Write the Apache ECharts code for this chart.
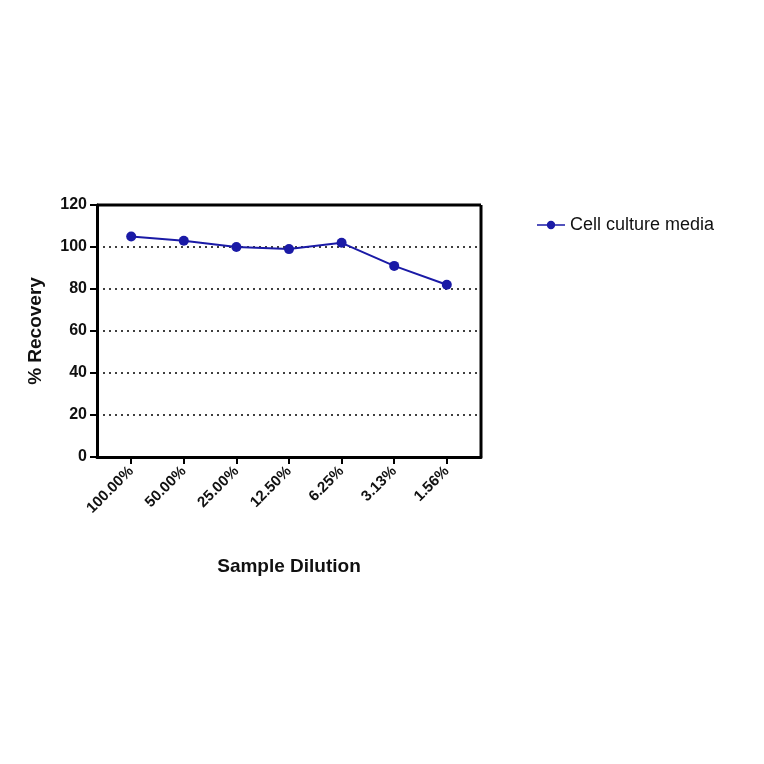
<!DOCTYPE html>
<html><head><meta charset="utf-8">
<script src="https://cdn.jsdelivr.net/npm/echarts@6/dist/echarts.min.js"></script>
<style>html,body{margin:0;padding:0;background:#fff}#c{width:764px;height:764px}</style>
</head><body><div id="c"></div>
<script>
const categories = ["100.00%","50.00%","25.00%","12.50%","6.25%","3.13%","1.56%"];
const recovery = [105, 103, 100, 99, 102, 91, 82];
const yTicks = [0,20,40,60,80,100,120];
const seriesName = "Cell culture media";
const color = "#1a1aa6";
const idx = categories.map((_, i) => i);
const chart = echarts.init(document.getElementById('c'));
chart.setOption({
  animation:false,
  textStyle:{fontFamily:'Arial, "Liberation Sans", sans-serif'},
  grid:{left:97, top:205, width:384, height:252, containLabel:false},
  legend:{data:[{name:seriesName, icon:'path://M0,9 L40,9 L40,11 L0,11 Z M20,4 A6,6 0 1,1 19.99,4 Z'}],
    left:532, top:211, itemWidth:28, itemHeight:12, itemGap:10,
    textStyle:{fontSize:18, color:'#111'}},
  xAxis:{type:'value', min:-0.65, max:6.65,
    axisLine:{onZero:false, lineStyle:{color:'#000', width:3}},
    axisTick:{show:true, customValues:idx, length:7, lineStyle:{color:'#000', width:2}},
    axisLabel:{customValues:idx, rotate:45, fontSize:15, fontWeight:'bold', color:'#111', margin:12,
      formatter:v=>categories[Math.round(v)]},
    splitLine:{show:false},
    name:'Sample Dilution', nameLocation:'middle', nameGap:100,
    nameTextStyle:{fontSize:19, fontWeight:'bold', color:'#111'}},
  yAxis:{type:'value', min:0, max:120, interval:20,
    axisLine:{show:true, onZero:false, lineStyle:{color:'#000', width:3}},
    axisTick:{show:true, length:7, lineStyle:{color:'#000', width:2}},
    axisLabel:{fontSize:16, fontWeight:'bold', color:'#111', margin:10},
    splitLine:{show:true, lineStyle:{color:'#000', type:[2,4], width:1.5}},
    name:'% Recovery', nameLocation:'middle', nameGap:52,
    nameTextStyle:{fontSize:19, fontWeight:'bold', color:'#111'}},
  graphic:[{type:'line', shape:{x1:97,y1:205,x2:481,y2:205}, style:{stroke:'#000', lineWidth:3}},
           {type:'line', shape:{x1:481,y1:205,x2:481,y2:457}, style:{stroke:'#000', lineWidth:3}}],
  series:[{name:seriesName, type:'line', data:idx.map(i=>[i, recovery[i]]),
    symbol:'circle', symbolSize:10, itemStyle:{color:color}, lineStyle:{color:color, width:2}}]
});
</script></body></html>
